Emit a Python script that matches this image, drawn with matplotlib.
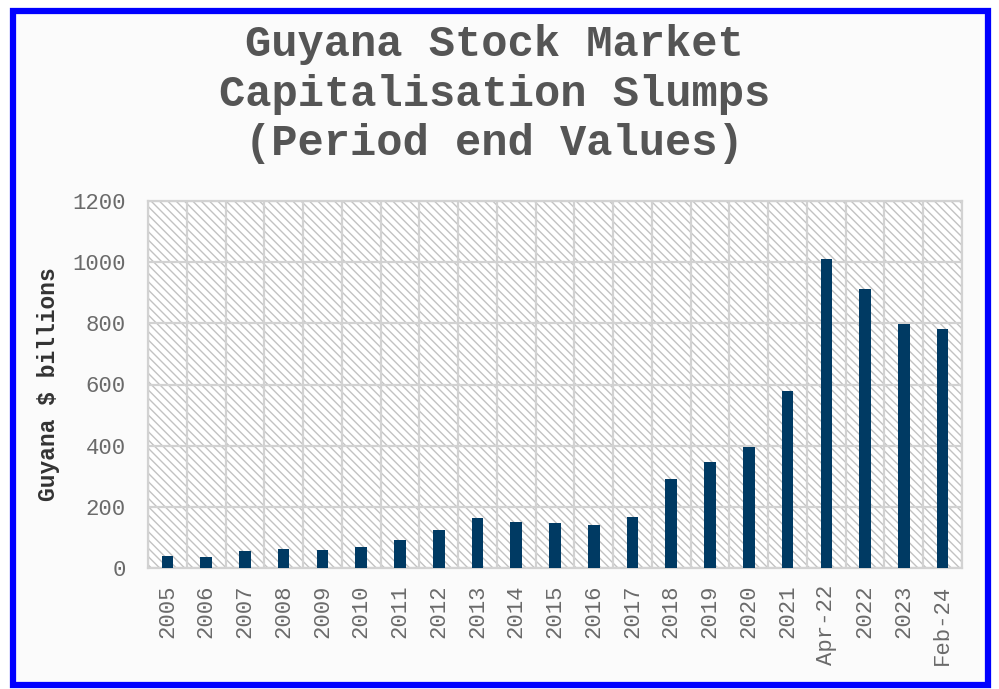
import matplotlib
matplotlib.use("Agg")
import matplotlib.pyplot as plt
from matplotlib.patches import Rectangle
import numpy as np

periods = ["2005", "2006", "2007", "2008", "2009", "2010", "2011", "2012",
           "2013", "2014", "2015", "2016", "2017", "2018", "2019", "2020",
           "2021", "Apr-22", "2022", "2023", "Feb-24"]
cap = [38, 37, 56, 61, 60, 70, 93, 125, 162, 152, 146, 140, 167, 290, 347,
       396, 580, 1011, 913, 799, 781]
yticks = [0, 200, 400, 600, 800, 1000, 1200]

plt.rcParams['font.family'] = ['Liberation Mono', 'DejaVu Sans Mono']
plt.rcParams['hatch.linewidth'] = 1.0

fig = plt.figure(figsize=(9.99, 6.89), dpi=100)
fig.patch.set_facecolor("white")

# blue frame round the picture
fig.patches.append(Rectangle((12.5 / 999, 4.5 / 689), 975 / 999, 674 / 689,
                             transform=fig.transFigure, facecolor="#fbfbfb",
                             edgecolor="#0000ff", linewidth=4.5, zorder=-5))

ax = fig.add_axes([148 / 999, 121 / 689, 814 / 999, 367 / 689])
ax.patch.set_alpha(0)
ax.add_patch(Rectangle((0, 0), 1, 1, transform=ax.transAxes, facecolor="white",
                       edgecolor="#c2c2c2", hatch="\\\\\\\\", linewidth=0, zorder=0))

x = np.arange(len(periods))
ax.bar(x, cap, width=0.3, color="#003a63", zorder=3)

ax.set_xlim(-0.5, len(periods) - 0.5)
ax.set_ylim(0, 1200)
ax.set_yticks(yticks)
ax.set_xticks(x)
ax.set_xticklabels(periods, rotation=90)
ax.set_xticks(np.arange(len(periods) + 1) - 0.5, minor=True)

ax.grid(axis="y", which="major", color="#d2d2d2", linewidth=1.6, zorder=1)
ax.grid(axis="x", which="minor", color="#d2d2d2", linewidth=1.6, zorder=1)
ax.set_axisbelow(True)

ax.tick_params(axis="both", which="both", length=0, labelsize=16,
               labelcolor="#6a6a6a")
ax.tick_params(axis="x", pad=12)
ax.tick_params(axis="y", pad=16)
for s in ax.spines.values():
    s.set_color("#d2d2d2")
    s.set_linewidth(1.6)

ax.set_ylabel("Guyana $ billions", fontsize=16.5, fontweight="bold",
              color="#333333")
ax.yaxis.set_label_coords(-0.108, 0.5)

fig.text(0.495, 0.965, "Guyana Stock Market\nCapitalisation Slumps\n(Period end Values)",
         ha="center", va="top", fontsize=31.5, fontweight="bold", color="#555555",
         linespacing=1.27)

fig.savefig("out.png", dpi=100, facecolor=fig.get_facecolor())
